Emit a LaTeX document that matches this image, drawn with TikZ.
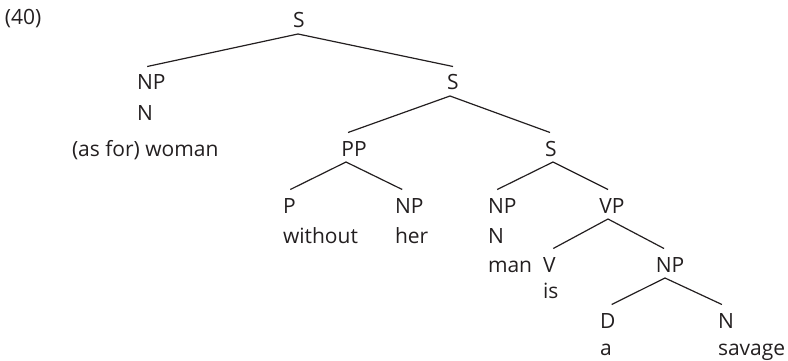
\documentclass[tikz,border=0pt]{standalone}
\usepackage{fontspec}
\setmainfont{Open Sans}
\definecolor{ink}{HTML}{231F20}
\begin{document}
\begin{tikzpicture}[x=1pt,y=-1pt,
  lab/.style={inner xsep=0pt,inner ysep=2pt,outer sep=0pt,text height=21.5pt,text depth=4pt,
    font=\fontsize{21}{24}\selectfont,text=ink},
  lw/.style={lab,anchor=base west},
  lc/.style={lab,anchor=base},
  br/.style={draw=ink,line width=1.2pt}]
\useasboundingbox (0,0) rectangle (788,361);
% row 0
\node[lw] (ex) at (5,25) {(40)};
\node[lc] (s0) at (299,28) {S};
% row 1-3
\node[lw] (np1) at (137,90) {NP};
\node[lc] (s1) at (453,90) {S};
\node[lw] (n1) at (137,121) {N};
\node[lw] (woman) at (72,156) {(as for) woman};
\node[lc] (pp) at (354,156) {PP};
\node[lc] (s2) at (551,156) {S};
% row 4-5
\node[lw] (p) at (283,213) {P};
\node[lw] (np2) at (395,213) {NP};
\node[lw] (np3) at (488,213) {NP};
\node[lc] (vp) at (612,213) {VP};
\node[lw] (without) at (283,243) {without};
\node[lw] (her) at (395,243) {her};
\node[lw] (n3) at (488,243) {N};
% row 6-7
\node[lw] (man) at (488,272) {man};
\node[lw] (v) at (543,272) {V};
\node[lc] (np4) at (670,272) {NP};
\node[lw] (is) at (543,298) {is};
% row 8-9
\node[lw] (d) at (600,328) {D};
\node[lw] (n4) at (718,328) {N};
\node[lw] (a) at (600,355) {a};
\node[lw] (savage) at (718,355) {savage};
% branches
\draw[br] ([xshift=-1pt]s0.south) -- ([xshift=-4pt]np1.north);
\draw[br] ([xshift=-1pt]s0.south) -- (s1.north);
\draw[br] ([xshift=-3pt]s1.south) -- ([xshift=-6pt]pp.north);
\draw[br] ([xshift=-3pt]s1.south) -- ([xshift=-1pt]s2.north);
\draw[br] ([xshift=-8pt]pp.south) -- ([xshift=1pt]p.north);
\draw[br] ([xshift=-8pt]pp.south) -- ([xshift=-7pt]np2.north);
\draw[br] ([xshift=2pt]s2.south) -- ([xshift=-5pt]np3.north);
\draw[br] ([xshift=2pt]s2.south) -- ([xshift=-4pt]vp.north);
\draw[br] ([xshift=-4pt]vp.south) -- ([xshift=4pt]v.north);
\draw[br] ([xshift=-4pt]vp.south) -- ([xshift=-6pt]np4.north);
\draw[br] ([xshift=-5pt]np4.south) -- ([xshift=4pt]d.north);
\draw[br] ([xshift=-5pt]np4.south) -- ([xshift=-4pt]n4.north);
\end{tikzpicture}
\end{document}
